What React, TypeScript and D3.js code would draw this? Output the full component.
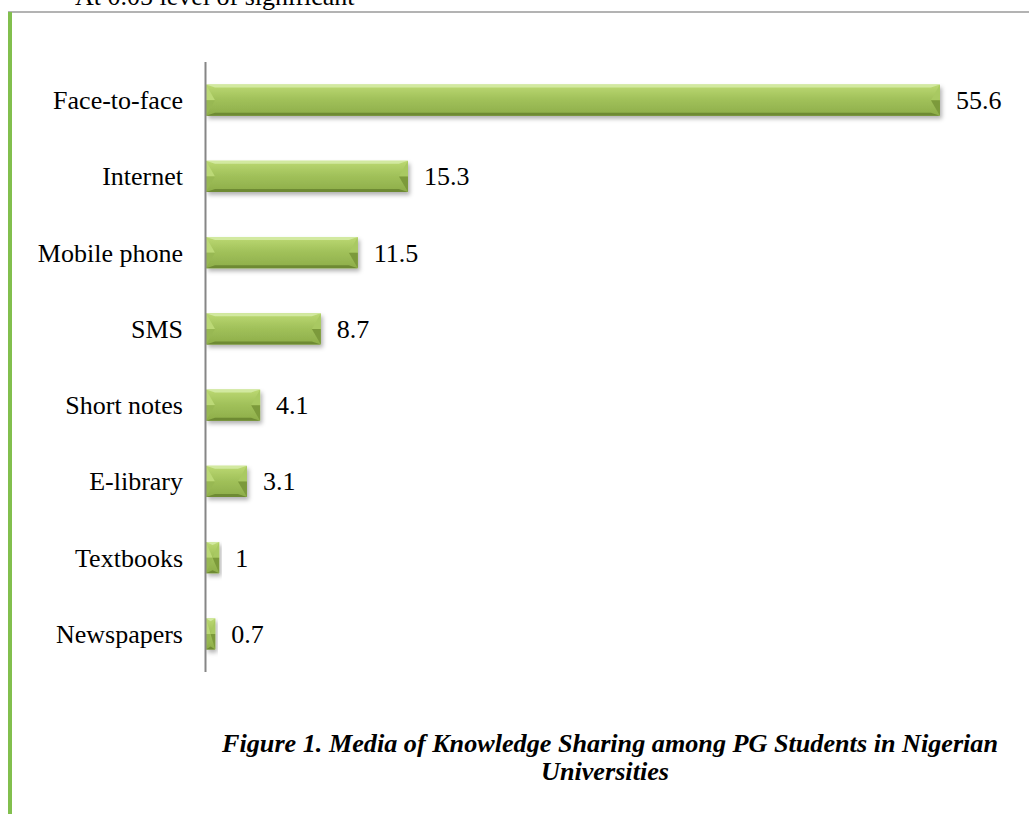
import * as React from 'react';
import * as d3 from 'd3';

// chart data
const categories: string[] = ['Face-to-face', 'Internet', 'Mobile phone', 'SMS', 'Short notes', 'E-library', 'Textbooks', 'Newspapers'];
const values: number[] = [55.6, 15.3, 11.5, 8.7, 4.1, 3.1, 1, 0.7];
const valueLabels: string[] = ['55.6', '15.3', '11.5', '8.7', '4.1', '3.1', '1', '0.7'];

const topNote = 'At 0.05 level of significant';
const captionLines: string[] = ['Figure 1. Media of Knowledge Sharing among PG Students in Nigerian', 'Universities'];

const W = 1029;
const H = 814;
const serif = '"Liberation Serif", "Times New Roman", Times, serif';

function Bar(props: { x0: number; x1: number; y0: number; h: number }) {
    const { x0, x1, y0, h } = props;
    const y1 = y0 + h;
    const w = x1 - x0;
    const b = Math.min(9, w / 2);
    const t = 3;
    const ym = y0 + h / 2;
    const pts = (p: number[][]) => p.map(d => d.join(',')).join(' ');
    return (
        <g>
            <rect x={x0} y={y0} width={w} height={h} fill="url(#barGrad)" filter="url(#barShadow)" />
            <polygon points={pts([[x0, y0], [x1, y0], [x1 - b, y0 + t], [x0 + b, y0 + t]])} fill="#d2e9a0" />
            <polygon points={pts([[x0, y1], [x1, y1], [x1 - b, y1 - t], [x0 + b, y1 - t]])} fill="#6e8a33" />
            <polygon points={pts([[x0, y0], [x0 + b, ym], [x0, ym]])} fill="#bcd977" />
            <polygon points={pts([[x0, ym], [x0 + b, ym], [x0, y1]])} fill="#98b853" />
            <polygon points={pts([[x1, y0], [x1 - b, ym], [x1, ym]])} fill="#a9c962" />
            <polygon points={pts([[x1, ym], [x1 - b, ym], [x1, y1]])} fill="#7c9a3b" />
        </g>
    );
}

export default function App() {
    const x = d3.scaleLinear().domain([0, 60]).range([206, 998]);
    const y = d3.scaleBand<string>().domain(categories).range([62, 672]).paddingInner(0.59).paddingOuter(0.295);
    const bh = y.bandwidth();

    return (
        <svg width={W} height={H} style={{ position: 'absolute', left: 0, top: 0, background: '#fff' }}
            fontFamily={serif}>
            <defs>
                <linearGradient id="barGrad" x1="0" y1="0" x2="0" y2="1">
                    <stop offset="0%" stopColor="#bcd973" />
                    <stop offset="45%" stopColor="#a2c25b" />
                    <stop offset="100%" stopColor="#8dad49" />
                </linearGradient>
                <filter id="barShadow" x="-10%" y="-30%" width="130%" height="190%">
                    <feDropShadow dx="2" dy="3" stdDeviation="2.2" floodColor="#000" floodOpacity="0.3" />
                </filter>
            </defs>

            {/* page-ish frame */}
            <text x={75} y={5} fontSize={26} fill="#000">{topNote}</text>
            <line x1={8} x2={W} y1={12} y2={12} stroke="#9a9a9a" strokeWidth={1.5} />
            <rect x={8} y={12} width={4} height={H - 12} fill="#82bf4e" />

            {categories.map((c, i) => (
                <g key={c}>
                    <Bar x0={x(0)} x1={x(values[i])} y0={y(c) as number} h={bh} />
                    <text x={183} y={(y(c) as number) + bh / 2} dy="0.35em" textAnchor="end" fontSize={26} fill="#000">{c}</text>
                    <text x={x(values[i]) + 16} y={(y(c) as number) + bh / 2} dy="0.35em" fontSize={26} fill="#000">{valueLabels[i]}</text>
                </g>
            ))}

            <line x1={205.5} x2={205.5} y1={62} y2={672} stroke="#868686" strokeWidth={2} />

            <text x={610} y={752} textAnchor="middle" fontSize={26} fontWeight="bold" fontStyle="italic"
                textLength={776} lengthAdjust="spacingAndGlyphs" fill="#000">{captionLines[0]}</text>
            <text x={605} y={780} textAnchor="middle" fontSize={26} fontWeight="bold" fontStyle="italic"
                textLength={128} lengthAdjust="spacingAndGlyphs" fill="#000">{captionLines[1]}</text>
        </svg>
    );
}
